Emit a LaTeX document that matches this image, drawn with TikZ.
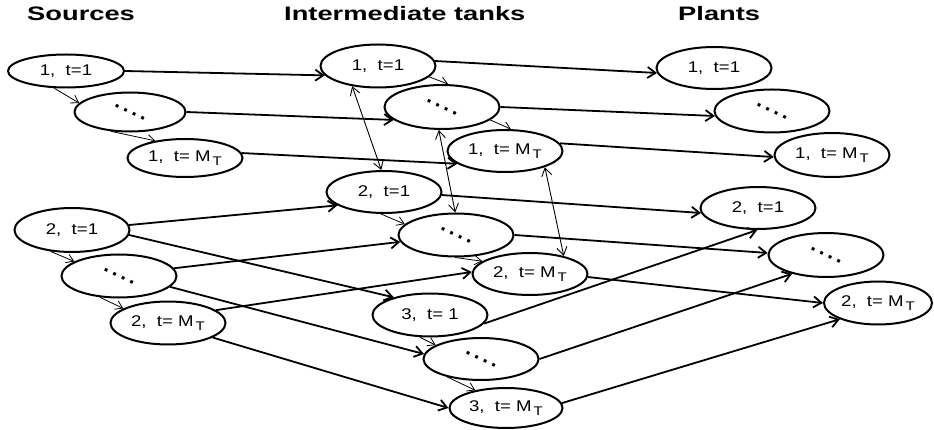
\documentclass[tikz,border=0pt]{standalone}
\usepackage{fontspec}
\usepackage{graphicx}
\usetikzlibrary{shapes.geometric,arrows.meta}
\newfontfamily\lab[FakeStretch=1.2]{Liberation Sans}
\newfontfamily\ttl[FakeStretch=1.4]{Liberation Sans}
\newfontfamily\dotfont[LetterSpace=17]{Liberation Sans Bold}
\newcommand{\MT}{M\hspace{2pt}\raisebox{-4.5pt}{\fontsize{12.5}{12.5}\selectfont T}}
\newcommand{\fourdots}{\rotatebox{-25}{\dotfont\fontsize{21}{21}\selectfont ....}}
\tikzset{
  tank/.style={ellipse, draw, line width=2pt, minimum width=115pt, minimum height=42pt,
    inner sep=0pt, font=\lab\fontsize{15.5}{15.5}\selectfont},
  flow/.style={line width=1.8pt, -{Straight Barb[length=8pt,width=11pt]}},
  thinflow/.style={line width=0.8pt, -{Straight Barb[length=7pt,width=9pt]}},
  both/.style={line width=0.9pt, {Straight Barb[length=8pt,width=10pt]}-{Straight Barb[length=8pt,width=10pt]}},
  title/.style={anchor=base west, inner sep=0pt, font=\ttl\bfseries\fontsize{19.5}{19.5}\selectfont}
}
\begin{document}
\begin{tikzpicture}[x=1pt,y=-1pt]
\useasboundingbox (0,0) rectangle (934,430);
% titles
\node[title] (tS) at (27,21) {Sources};
\node[title] (tI) at (284,21) {Intermediate tanks};
\node[title] (tP) at (678,21) {Plants};
% sources
\node[tank, minimum height=33pt, minimum width=116pt] (S1a) at (66,71) {1,\ \ t=1};
\node[tank, minimum height=39pt, minimum width=111pt] (S1b) at (130,112) {\fourdots};
\node[tank, minimum height=38pt] (S1c) at (185,158) {1,\ \ t= \MT};
\node[tank, minimum height=44pt] (S2a) at (72,230) {2,\ \ t=1};
\node[tank, minimum height=43pt] (S2b) at (119,276) {\fourdots};
\node[tank, minimum height=43pt] (S2c) at (168,323) {2,\ \ t= \MT};
% intermediate
\node[tank, minimum height=43pt] (I1a) at (378,66) {1,\ \ t=1};
\node[tank, minimum height=44pt] (I1b) at (442,107) {\fourdots};
\node[tank] (I1c) at (505,151) {1,\ \ t= \MT};
\node[tank] (I2a) at (384,192) {2,\ \ t=1};
\node[tank, minimum height=43pt] (I2b) at (456,235) {\fourdots};
\node[tank] (I2c) at (530,274) {2,\ \ t= \MT};
\node[tank, minimum height=43pt] (I3a) at (430,315) {3,\ \ t= 1};
\node[tank] (I3b) at (481,359) {\fourdots};
\node[tank, minimum height=40pt, minimum width=113pt] (I3c) at (506,408) {3,\ \ t= \MT};
% plants
\node[tank] (P1a) at (714,68) {1,\ \ t=1};
\node[tank, minimum height=43pt] (P1b) at (772,111) {\fourdots};
\node[tank, minimum height=44pt] (P1c) at (832,155) {1,\ \ t= \MT};
\node[tank] (P2a) at (758,208) {2,\ \ t=1};
\node[tank, minimum height=44pt] (P2b) at (826,255) {\fourdots};
\node[tank, minimum height=43pt, minimum width=108pt] (P2c) at (878,303) {2,\ \ t= \MT};
% sources 1 -> intermediate 1
\draw[flow] (S1a.east) -- (I1a.190);
\draw[flow] (S1b.east) -- (I1b.195);
\draw[flow] (S1c.5) -- (I1c.195);
\draw[thinflow] (S1a.235) -- (S1b.170);
\draw[thinflow] (S1b.225) -- (S1c.150);
% intermediate 1 -> plants 1
\draw[flow] (I1a.5) -- (P1a.185);
\draw[flow] (I1b.east) -- (P1b.185);
\draw[flow] (I1c.8) -- (P1c.182);
\draw[thinflow] (I1a.-12) -- (I1b.75);
\draw[thinflow] (I1b.-15) -- (I1c.75);
% exchanges between tanks
\draw[both] (I1a.218) -- (I2a.97);
\draw[both] (I1b.262) -- (I2b.92);
\draw[both] (I1c.-22) -- (I2c.28);
% sources 2 -> intermediate
\draw[flow] (S2a.5) -- (I2a.196);
\draw[flow] (S2a.-5) -- (I3a.154);
\draw[flow] (S2b.8) -- (I2b.187);
\draw[flow] (S2b.-12) -- (I3b.175);
\draw[flow] (S2c.15) -- (I2c.178);
\draw[flow] (S2c.-18) -- (I3c.west);
\draw[thinflow] (S2a.225) -- (S2b.162);
\draw[thinflow] (S2b.228) -- (S2c.162);
% intermediate 2 -> plants 2
\draw[flow] (I2a.-3) -- (P2a.185);
\draw[flow] (I2b.east) -- (P2b.178);
\draw[flow] (I2c.-3) -- (P2c.west);
\draw[thinflow] (I2a.262) -- (I2b.168);
\draw[thinflow] (I2b.268) -- (I2c.165);
% intermediate 3 -> plants 2
\draw[flow] (I3a.-9) -- (P2a.268);
\draw[flow] (I3b.east) -- (P2b.209);
\draw[flow] (I3c.5) -- (P2c.203);
\draw[thinflow] (I3a.245) -- (I3b.163);
\draw[thinflow] (I3b.208) -- (I3c.150);
\end{tikzpicture}
\end{document}
